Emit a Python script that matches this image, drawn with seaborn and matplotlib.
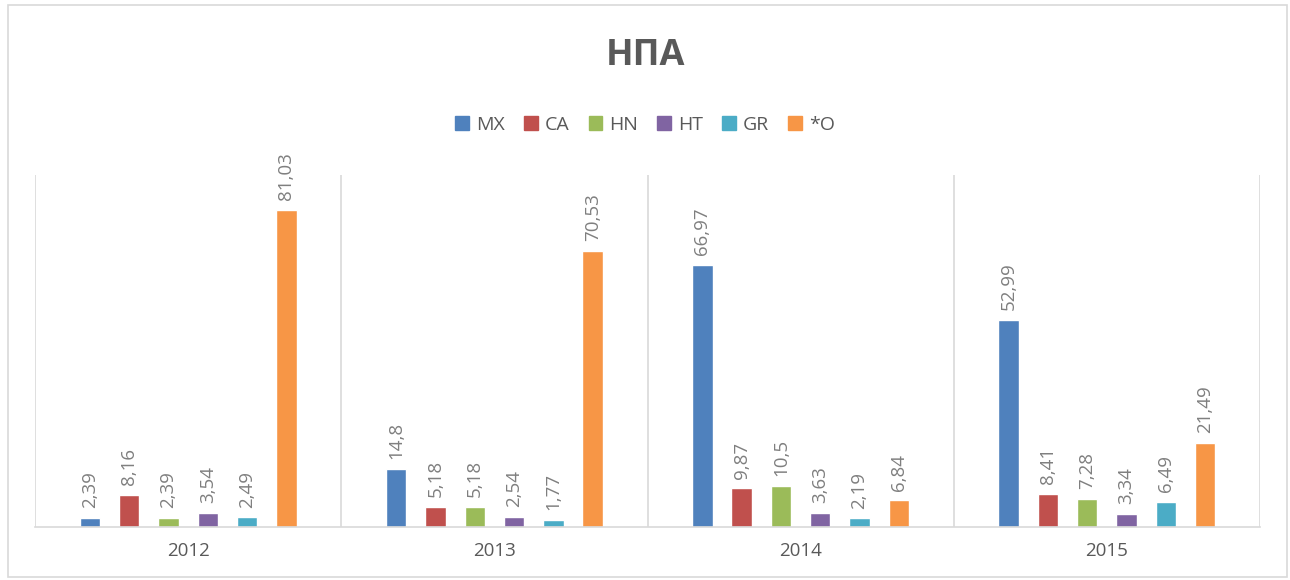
import pandas as pd
import numpy as np
import matplotlib.pyplot as plt
import matplotlib.patches as mpatches
import seaborn as sns

# Data
years = ['2012', '2013', '2014', '2015']
series = ['MX', 'CA', 'HN', 'HT', 'GR', '*O']
mx = [2.39, 14.8, 66.97, 52.99]
ca = [8.16, 5.18, 9.87, 8.41]
hn = [2.39, 5.18, 10.5, 7.28]
ht = [3.54, 2.54, 3.63, 3.34]
gr = [2.49, 1.77, 2.19, 6.49]
other = [81.03, 70.53, 6.84, 21.49]
colors = ['#4F81BD', '#C0504D', '#9BBB59', '#8064A2', '#4BACC6', '#F79646']

rows = []
for name, vals in zip(series, [mx, ca, hn, ht, gr, other]):
    for y, v in zip(years, vals):
        rows.append({'year': y, 'series': name, 'value': v})
df = pd.DataFrame(rows)

sns.set_theme(style="white")
plt.rcParams['font.family'] = ['Open Sans', 'DejaVu Sans']
text_col = '#595959'
grid_col = '#D9D9D9'

fig = plt.figure(figsize=(12.9, 5.8), dpi=100)
ax = fig.add_axes([35 / 1290, 1 - 527 / 580, 1225 / 1290, 352 / 580])

sns.barplot(data=df, x='year', y='value', hue='series', order=years,
            hue_order=series, palette=colors, width=0.77, gap=0.48,
            saturation=1, ax=ax, legend=False)

for cont in ax.containers:
    for bar in cont:
        h = bar.get_height()
        ax.annotate(f"{h:g}".replace('.', ','),
                    (bar.get_x() + bar.get_width() / 2, h),
                    xytext=(0, 7), textcoords='offset points',
                    rotation=90, ha='center', va='bottom',
                    fontsize=13.5, color='#7F7F7F')

ax.set_ylim(0, 90)
ax.set_xlim(-0.5, 3.5)
for xv in [-0.5, 0.5, 1.5, 2.5, 3.5]:
    ax.axvline(xv, color=grid_col, lw=1.2, zorder=0)
ax.set_yticks([])
ax.set_xlabel('')
ax.set_ylabel('')
for s in ['top', 'left', 'right']:
    ax.spines[s].set_visible(False)
ax.spines['bottom'].set_color(grid_col)
ax.spines['bottom'].set_linewidth(1.2)
ax.tick_params(axis='x', length=0, pad=11, labelsize=13.5, labelcolor=text_col)

fig.text(0.5, 1 - 56 / 580, 'НПА', ha='center', va='center',
         fontsize=26, fontweight='bold', color=text_col)

handles = [mpatches.Patch(color=c, label=s) for c, s in zip(colors, series)]
leg = fig.legend(handles=handles, loc='center', ncol=6,
                 bbox_to_anchor=(0.5, 1 - 125 / 580), frameon=False,
                 fontsize=14, handlelength=0.7, handleheight=0.7,
                 handletextpad=0.35, columnspacing=1.0)
for t in leg.get_texts():
    t.set_color(text_col)

fig.patches.append(mpatches.Rectangle((8 / 1290, 3 / 580), 1279 / 1290, 572 / 580,
                                      transform=fig.transFigure, fill=False,
                                      edgecolor=grid_col, lw=1.2))

fig.savefig('out.png', dpi=100)
